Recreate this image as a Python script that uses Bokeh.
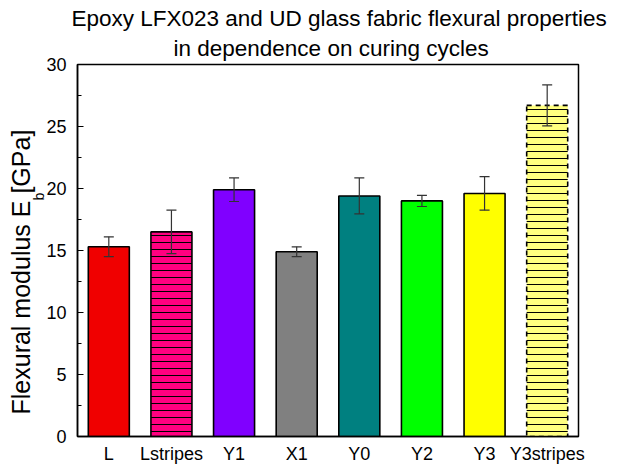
import math
from bokeh.plotting import figure
from bokeh.models import (ColumnDataSource, Whisker, TeeHead, FixedTicker, Label,
                          Range1d, Title)
from bokeh.embed import file_html
from bokeh.resources import INLINE

# ---- data ----
categories = ["L", "Lstripes", "Y1", "X1", "Y0", "Y2", "Y3", "Y3stripes"]
modulus = [15.3, 16.5, 19.9, 14.9, 19.4, 19.0, 19.6, 26.7]
errors = [0.8, 1.75, 0.95, 0.4, 1.45, 0.45, 1.35, 1.65]
colors = ["#F00000", "#FF0080", "#8000FF", "#808080", "#008080", "#00FF00",
          "#FFFF00", "#FFFF80"]
hatches = [" ", "-", " ", " ", " ", " ", " ", "-"]
dashes = ["solid", "solid", "solid", "solid", "solid", "solid", "solid", "dashed"]
y_ticks = [0, 5, 10, 15, 20, 25, 30]

title_lines = ["Epoxy LFX023 and UD glass fabric flexural properties",
               "in dependence on curing cycles"]
ylabel_main = "Flexural modulus E  [GPa]"
ylabel_sub = "b"

FONT = "Liberation Sans"

xs = [i + 0.5 for i in range(len(categories))]
src = ColumnDataSource(dict(
    x=xs, top=modulus,
    upper=[m + e for m, e in zip(modulus, errors)],
    lower=[m - e for m, e in zip(modulus, errors)],
))

p = figure(width=619, height=466, output_backend="svg", toolbar_location=None,
           x_range=Range1d(0, len(categories)), y_range=Range1d(0, 30),
           min_border_left=77, min_border_right=41, min_border_top=64,
           min_border_bottom=29, title=None)
p.grid.visible = False
p.outline_line_color = "black"
p.outline_line_width = 1.5
p.background_fill_color = "white"
p.border_fill_color = "white"

solid_idx = [i for i, d in enumerate(dashes) if d == "solid"]
dash_idx = [i for i, d in enumerate(dashes) if d != "solid"]

def sub(idx):
    return ColumnDataSource(dict(
        x=[xs[i] for i in idx], top=[modulus[i] for i in idx],
        color=[colors[i] for i in idx], hatch=[hatches[i] for i in idx]))

p.vbar(x="x", top="top", width=0.655, bottom=0, source=sub(solid_idx),
       fill_color="color", line_color="black", line_width=1.6,
       hatch_pattern="hatch", hatch_color="black", hatch_scale=7,
       hatch_weight=1)
p.vbar(x="x", top="top", width=0.655, bottom=0, source=sub(dash_idx),
       fill_color="color", line_color="black", line_width=1.6,
       line_dash="5 4",
       hatch_pattern="hatch", hatch_color="black", hatch_scale=7,
       hatch_weight=1)

w = Whisker(base="x", upper="upper", lower="lower", source=src,
            level="overlay",
            line_color="#333333", line_width=1.2,
            upper_head=TeeHead(size=10, line_color="#333333", line_width=1.2),
            lower_head=TeeHead(size=10, line_color="#333333", line_width=1.2))
p.add_layout(w)

# axes
p.xaxis.ticker = FixedTicker(ticks=xs)
p.xaxis.major_label_overrides = {x: c for x, c in zip(xs, categories)}
p.xaxis.major_tick_out = 0
p.xaxis.major_tick_in = 0
p.xaxis.minor_tick_out = 0
p.xaxis.minor_tick_in = 0
p.xaxis.major_tick_line_color = None
p.xaxis.minor_tick_line_color = None
p.xaxis.major_label_standoff = 7
p.yaxis.ticker = FixedTicker(ticks=y_ticks,
                             minor_ticks=[2.5 + 5 * i for i in range(6)])
p.yaxis.major_tick_in = 6
p.yaxis.major_tick_out = 0
p.yaxis.minor_tick_in = 4
p.yaxis.minor_tick_out = 0
p.yaxis.major_label_standoff = 11
p.yaxis.major_tick_line_color = "black"
for ax in (p.xaxis, p.yaxis):
    ax.axis_line_color = "black"
    ax.axis_line_width = 1.5
    ax.major_tick_line_width = 1.2
    ax.minor_tick_line_width = 1.2
    ax.major_label_text_font = FONT
    ax.major_label_text_font_size = "18px"
    ax.major_label_text_color = "black"

# title (two lines) - later additions go further from the frame
p.add_layout(Title(text=title_lines[1], align="left", offset=96, text_font=FONT,
                   text_font_size="22.5px", text_font_style="normal",
                   text_color="black", standoff=7), "above")
p.add_layout(Title(text=title_lines[0], align="left", offset=-6, text_font=FONT,
                   text_font_size="22.5px", text_font_style="normal",
                   text_color="black", standoff=0), "above")

# y-axis label (main text in left panel, subscript in right panel)
ang = math.pi / 2
p.add_layout(Label(x=5, y=22, x_units="screen", y_units="screen",
                   text=ylabel_main, angle=ang,
                   text_font=FONT, text_font_size="25px", text_align="left",
                   text_baseline="alphabetic", text_color="black"), "left")
p.add_layout(Label(x=-540, y=236, x_units="screen", y_units="screen",
                   text=ylabel_sub, angle=ang,
                   text_font=FONT, text_font_size="14px", text_align="left",
                   text_baseline="alphabetic", text_color="black"), "right")

open("out.html", "w").write(file_html(p, INLINE))
